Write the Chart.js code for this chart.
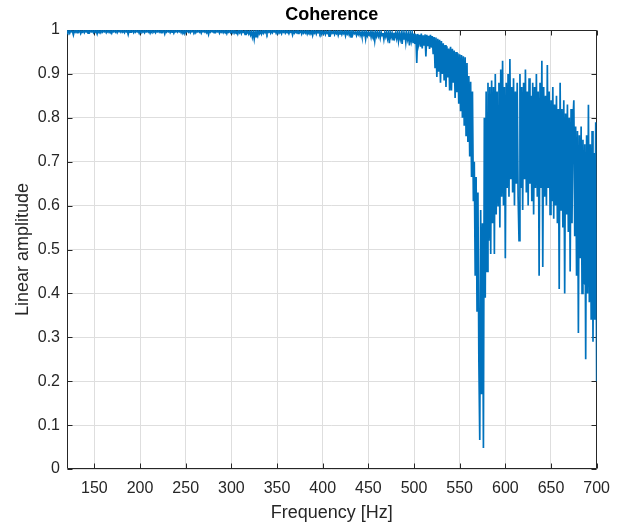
<!DOCTYPE html>
<html>
<head>
<meta charset="utf-8">
<title>Coherence</title>
<script src="https://cdn.jsdelivr.net/npm/chart.js@4/dist/chart.umd.min.js"></script>
<style>
  html, body { margin: 0; padding: 0; background: #fff; }
</style>
</head>
<body>
<canvas id="cohChart" width="620" height="526"></canvas>
<script>
// frequency grid of the estimate (Hz)
const freqStart = 120;
const freqStep = 1;

// coherence values, one per Hz from 120 to 700
const coherence = [
  0.999,0.995,0.998,0.993,0.999,0.996,0.997,0.989,0.998,0.995,0.999,0.994,0.998,0.996,0.999,0.992,0.997,0.995,0.999,0.994,
  0.998,0.996,0.999,0.993,0.998,0.995,0.999,0.996,0.998,0.994,0.999,0.995,0.998,0.991,0.999,0.996,0.998,0.994,0.999,0.995,
  0.998,0.996,0.999,0.994,0.998,0.995,0.999,0.996,0.998,0.993,0.999,0.996,0.998,0.995,0.999,0.994,0.998,0.996,0.999,0.995,
  0.999,0.995,0.998,0.994,0.999,0.996,0.998,0.990,0.999,0.995,0.998,0.996,0.999,0.994,0.998,0.995,0.999,0.996,0.998,0.993,
  0.999,0.996,0.998,0.995,0.999,0.994,0.998,0.996,0.999,0.995,0.998,0.993,0.999,0.996,0.998,0.995,0.999,0.994,0.998,0.996,
  0.999,0.995,0.998,0.994,0.999,0.996,0.998,0.991,0.999,0.995,0.998,0.996,0.999,0.994,0.998,0.995,0.999,0.993,0.998,0.996,
  0.999,0.995,0.998,0.996,0.999,0.994,0.998,0.995,0.999,0.992,0.998,0.996,0.999,0.995,0.998,0.994,0.999,0.996,0.998,0.995,
  0.999,0.994,0.998,0.996,0.999,0.995,0.998,0.993,0.999,0.996,0.998,0.995,0.999,0.994,0.998,0.990,0.999,0.995,0.998,0.996,
  0.999,0.994,0.998,0.995,0.999,0.996,0.998,0.993,0.999,0.995,0.998,0.994,0.999,0.996,0.998,0.992,0.999,0.995,0.998,0.994,
  0.998,0.994,0.999,0.993,0.998,0.995,0.997,0.991,0.998,0.994,0.999,0.992,0.998,0.995,0.997,0.990,0.998,0.993,0.997,0.991,
  0.997,0.989,0.996,0.984,0.995,0.980,0.996,0.985,0.997,0.988,0.998,0.992,0.997,0.991,0.998,0.993,0.999,0.994,0.998,0.992,
  0.999,0.995,0.998,0.993,0.999,0.994,0.998,0.996,0.999,0.993,0.998,0.995,0.999,0.994,0.998,0.992,0.999,0.995,0.998,0.993,
  0.998,0.994,0.997,0.992,0.998,0.995,0.997,0.989,0.998,0.993,0.997,0.994,0.998,0.992,0.997,0.995,0.998,0.991,0.997,0.993,
  0.998,0.993,0.997,0.991,0.998,0.994,0.997,0.992,0.998,0.988,0.997,0.993,0.998,0.991,0.997,0.994,0.998,0.992,0.997,0.990,
  0.997,0.992,0.996,0.990,0.997,0.993,0.996,0.986,0.997,0.991,0.996,0.993,0.997,0.990,0.996,0.992,0.997,0.988,0.996,0.991,
  0.997,0.990,0.996,0.992,0.997,0.987,0.996,0.991,0.997,0.989,0.996,0.984,0.997,0.990,0.996,0.992,0.995,0.988,0.996,0.990,
  0.996,0.988,0.995,0.985,0.996,0.989,0.995,0.980,0.996,0.987,0.994,0.989,0.995,0.984,0.996,0.988,0.994,0.976,0.995,0.986,
  0.995,0.986,0.994,0.982,0.995,0.987,0.993,0.979,0.994,0.985,0.995,0.981,0.993,0.970,0.994,0.984,0.993,0.978,0.994,0.983,
  0.993,0.981,0.994,0.975,0.992,0.980,0.993,0.968,0.994,0.978,0.992,0.972,0.993,0.979,0.991,0.965,0.992,0.976,0.993,0.970,
  0.992,0.968,0.990,0.925,0.991,0.970,0.989,0.962,0.992,0.958,0.988,0.966,0.990,0.940,0.989,0.963,0.987,0.957,0.989,0.960,
  0.986,0.945,0.984,0.915,0.983,0.893,0.980,0.905,0.978,0.880,0.975,0.900,0.970,0.885,0.966,0.870,0.963,0.892,0.958,0.862,
  0.962,0.862,0.957,0.880,0.953,0.845,0.950,0.858,0.947,0.832,0.945,0.815,0.943,0.800,0.940,0.782,0.938,0.760,0.925,0.745,
  0.895,0.712,0.882,0.665,0.860,0.610,0.700,0.440,0.665,0.360,0.630,0.250,0.066,0.590,0.170,0.560,0.048,0.800,0.390,0.860,
  0.450,0.880,0.520,0.870,0.490,0.885,0.560,0.870,0.490,0.900,0.580,0.860,0.600,0.880,0.550,0.910,0.620,0.930,0.600,0.870,
  0.480,0.880,0.640,0.900,0.620,0.934,0.660,0.870,0.630,0.890,0.600,0.860,0.650,0.880,0.620,0.520,0.900,0.640,0.870,0.590,
  0.880,0.660,0.910,0.630,0.860,0.600,0.890,0.650,0.850,0.610,0.880,0.580,0.870,0.640,0.900,0.620,0.860,0.440,0.880,0.640,
  0.930,0.460,0.870,0.620,0.850,0.600,0.920,0.640,0.860,0.580,0.840,0.610,0.870,0.570,0.830,0.600,0.850,0.560,0.820,0.410,
  0.880,0.590,0.820,0.550,0.840,0.400,0.810,0.580,0.830,0.540,0.800,0.450,0.820,0.560,0.790,0.840,0.530,0.780,0.440,0.770,
  0.310,0.760,0.480,0.780,0.400,0.750,0.420,0.740,0.250,0.760,0.400,0.830,0.380,0.740,0.340,0.770,0.290,0.720,0.340,0.790,
  0.200
];

const xTicks = [150, 200, 250, 300, 350, 400, 450, 500, 550, 600, 650, 700];
const yTicks = [0, 0.1, 0.2, 0.3, 0.4, 0.5, 0.6, 0.7, 0.8, 0.9, 1];
const yTickLabels = ["0", "0.1", "0.2", "0.3", "0.4", "0.5", "0.6", "0.7", "0.8", "0.9", "1"];

const axisColor = "#262626";
const fontFamily = "'Liberation Sans', Arial, Helvetica, sans-serif";

// matlab style box with inward tick marks, drawn under the data
const boxPlugin = {
    id: "matlabBox",
    beforeDatasetsDraw(chart) {
        const { ctx, chartArea: a, scales } = chart;
        const L = Math.round(a.left) + 0.5, R = Math.round(a.right) - 0.5;
        const T = Math.round(a.top) + 0.5, B = Math.round(a.bottom) - 0.5;
        const len = 5;
        ctx.save();
        ctx.strokeStyle = axisColor;
        ctx.lineWidth = 1;
        ctx.beginPath();
        xTicks.forEach(v => {
            const px = Math.round(scales.x.getPixelForValue(v)) + 0.5;
            ctx.moveTo(px, B); ctx.lineTo(px, B - len);
            ctx.moveTo(px, T); ctx.lineTo(px, T + len);
        });
        yTicks.forEach(v => {
            const py = Math.round(scales.y.getPixelForValue(v)) + 0.5;
            ctx.moveTo(L, py); ctx.lineTo(L + len, py);
            ctx.moveTo(R, py); ctx.lineTo(R - len, py);
        });
        ctx.rect(L, T, R - L, B - T);
        ctx.stroke();
        ctx.restore();
    }
};

const ctx = document.getElementById("cohChart").getContext("2d");

new Chart(ctx, {
    type: "line",
    data: {
        datasets: [{
            label: "Coherence",
            data: coherence.map((v, i) => ({ x: freqStart + i * freqStep, y: v })),
            borderColor: "#0072BD",
            borderWidth: 1.7,
            borderJoinStyle: "miter",
            pointRadius: 0,
            tension: 0,
            fill: false
        }]
    },
    options: {
        responsive: false,
        animation: false,
        layout: { padding: { left: 0, right: 20, top: 0, bottom: 0 } },
        plugins: {
            legend: { display: false },
            tooltip: { enabled: false },
            title: {
                display: true,
                text: "Coherence",
                fullSize: false,
                color: "#000",
                font: { family: fontFamily, size: 18, weight: "bold" },
                padding: { top: 4, bottom: 4.4 }
            }
        },
        scales: {
            x: {
                type: "linear",
                min: 120,
                max: 700,
                afterFit: s => { s.height = 57; },
                afterBuildTicks: s => { s.ticks = xTicks.map(v => ({ value: v })); },
                grid: { color: "#dedede", lineWidth: 1, drawTicks: false },
                border: { display: false },
                ticks: {
                    color: axisColor,
                    padding: 10,
                    maxRotation: 0,
                    font: { family: fontFamily, size: 16 },
                    callback: v => String(v)
                },
                title: {
                    display: true,
                    text: "Frequency [Hz]",
                    color: axisColor,
                    font: { family: fontFamily, size: 18 },
                    padding: { top: 0, bottom: 2 }
                }
            },
            y: {
                type: "linear",
                min: 0,
                max: 1,
                afterFit: s => { s.width = 67; },
                afterBuildTicks: s => { s.ticks = yTicks.map(v => ({ value: v })); },
                grid: { color: "#dedede", lineWidth: 1, drawTicks: false },
                border: { display: false },
                ticks: {
                    color: axisColor,
                    padding: 7,
                    font: { family: fontFamily, size: 16 },
                    callback: v => yTickLabels[yTicks.indexOf(v)]
                },
                title: {
                    display: true,
                    text: "Linear amplitude",
                    color: axisColor,
                    font: { family: fontFamily, size: 18 },
                    padding: { top: 12, bottom: 0 }
                }
            }
        }
    },
    plugins: [boxPlugin]
});
</script>
</body>
</html>
